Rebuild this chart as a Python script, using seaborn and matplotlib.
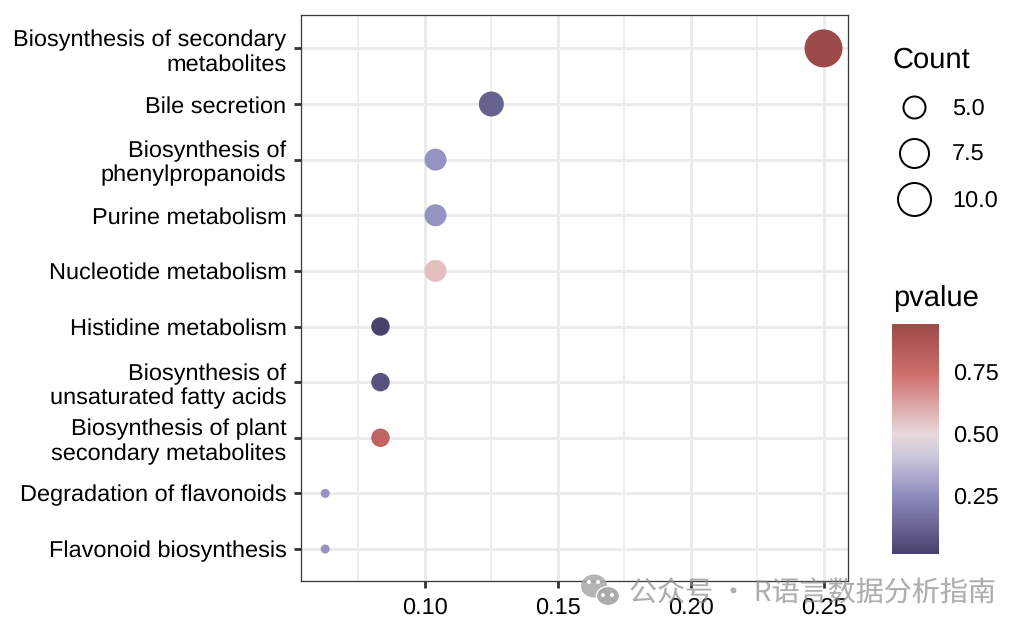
import numpy as np
import pandas as pd
import seaborn as sns
import matplotlib.pyplot as plt
from matplotlib.colors import LinearSegmentedColormap, Normalize
from matplotlib.cm import ScalarMappable
from matplotlib.lines import Line2D
from matplotlib.patches import Ellipse

pathways = ['Biosynthesis of secondary\nmetabolites', 'Bile secretion',
            'Biosynthesis of\nphenylpropanoids', 'Purine metabolism',
            'Nucleotide metabolism', 'Histidine metabolism',
            'Biosynthesis of\nunsaturated fatty acids',
            'Biosynthesis of plant\nsecondary metabolites',
            'Degradation of flavonoids', 'Flavonoid biosynthesis']
ratio = [0.25, 0.125, 0.104, 0.104, 0.104, 0.0833, 0.0833, 0.0833, 0.0625, 0.0625]
count = [12, 6, 5, 5, 5, 4, 4, 4, 3, 3]
pvalue = [0.945, 0.12, 0.27, 0.27, 0.56, 0.018, 0.07, 0.80, 0.27, 0.27]

legend_counts = [5.0, 7.5, 10.0]
legend_diam = [22, 29, 33]
count_diam = {3: 9, 4: 18.5, 5: 22, 6: 25, 12: 38}

W, H = 1028, 632
DPI = 100


def px_rect(left, top, right, bottom):
    return [left / W, 1 - bottom / H, (right - left) / W, (bottom - top) / H]


def pt(px):
    return px * 72 / DPI


df = pd.DataFrame({'pathway': pathways, 'ratio': ratio, 'count': count, 'pvalue': pvalue})

sns.set_theme(style='white')
plt.rcParams['font.family'] = ['Liberation Sans', 'DejaVu Sans']
plt.rcParams['text.hinting'] = 'no_hinting'

cmap = LinearSegmentedColormap.from_list(
    'pv', [(0.0, '#47436f'), (0.25, '#8e8cbd'), (0.42, '#c9c8dc'), (0.52, '#e9d9dc'),
           (0.78, '#cf6f6c'), (1.0, '#9c4a4a')])
norm = Normalize(0.018, 0.945)

fig = plt.figure(figsize=(W / DPI, H / DPI), dpi=DPI)
ax = fig.add_axes(px_rect(301, 15, 848, 581))

sns.scatterplot(data=df, x='ratio', y='pathway', hue='pvalue', hue_norm=norm, palette=cmap,
                size='count', sizes={k: pt(v) ** 2 for k, v in count_diam.items()},
                linewidth=0, legend=False, ax=ax, zorder=3)

ax.set_xlim(0.0534, 0.2592)
ax.set_ylim(9.575, -0.6)
ax.set_xlabel('')
ax.set_ylabel('')
ax.set_xticks([0.10, 0.15, 0.20, 0.25])
ax.set_xticklabels(['0.10', '0.15', '0.20', '0.25'])
ax.set_xticks([0.075, 0.125, 0.175, 0.225], minor=True)
ax.grid(True, which='major', color='#ebebeb', linewidth=pt(3))
ax.grid(True, which='minor', axis='x', color='#ebebeb', linewidth=pt(1.6))
ax.set_axisbelow(True)
ax.tick_params(axis='both', which='major', length=pt(7), width=pt(2.8), color='#333333',
               labelsize=16.9, labelcolor='black', pad=pt(7.5), bottom=True, left=True)
ax.tick_params(axis='x', which='major', pad=pt(9))
ax.tick_params(axis='x', which='minor', length=0)
for lab in ax.get_yticklabels():
    lab.set_multialignment('right')
    lab.set_linespacing(1.18)
for s in ax.spines.values():
    s.set_color('#3c3c3c')
    s.set_linewidth(pt(1.3))

# size legend
handles = [Line2D([], [], linestyle='', marker='o', markerfacecolor='white', markeredgecolor='black',
                  markeredgewidth=pt(2), markersize=pt(d)) for d in legend_diam]
leg = ax.legend(handles, [f'{c:.1f}' for c in legend_counts], title='Count', frameon=False,
                loc='upper left', bbox_to_anchor=(871 / W, 1 - 26 / H),
                bbox_transform=fig.transFigure, fontsize=16.9, title_fontsize=21,
                labelspacing=1.04, handletextpad=0.66, handlelength=1.9, alignment='left')
leg.get_title().set_color('black')
for t in leg.get_texts():
    t.set_color('black')

# p value colour bar
cax = fig.add_axes(px_rect(892, 323.5, 939, 553.5))
cb = fig.colorbar(ScalarMappable(norm=norm, cmap=cmap), cax=cax, ticks=[0.25, 0.50, 0.75])
cb.ax.set_yticklabels(['0.25', '0.50', '0.75'])
cb.outline.set_visible(False)
cax.tick_params(axis='y', left=True, right=True, direction='in', color='#f3e6e6',
                length=pt(9.5), width=pt(1), labelsize=16.9, labelcolor='black', pad=pt(14))
fig.text(893 / W, 1 - 298 / H, 'pvalue', fontsize=21, color='black', ha='left', va='center')

# watermark
wm = '#a8a8a8'
fig.add_artist(Ellipse((594 / W, 1 - 586 / H), 26 / W, 23 / H, transform=fig.transFigure,
                       fc=wm, ec='none', alpha=0.85, zorder=10))
fig.add_artist(Ellipse((608 / W, 1 - 596 / H), 23 / W, 19 / H, transform=fig.transFigure,
                       fc=wm, ec='white', lw=1, alpha=0.95, zorder=11))
for ex, ey in [(589, 582), (598, 582), (603, 595), (612, 595)]:
    fig.add_artist(Ellipse((ex / W, 1 - ey / H), 4 / W, 4 / H, transform=fig.transFigure,
                           fc='white', ec='none', zorder=12))
fig.text(629 / W, 1 - 594 / H, '公众号 · R语言数据分析指南', fontsize=20.2, color='#8c8c8c', alpha=0.7,
         ha='left', va='center', family=['Noto Sans CJK SC', 'DejaVu Sans'], zorder=13)

fig.savefig('out.png', dpi=DPI)
